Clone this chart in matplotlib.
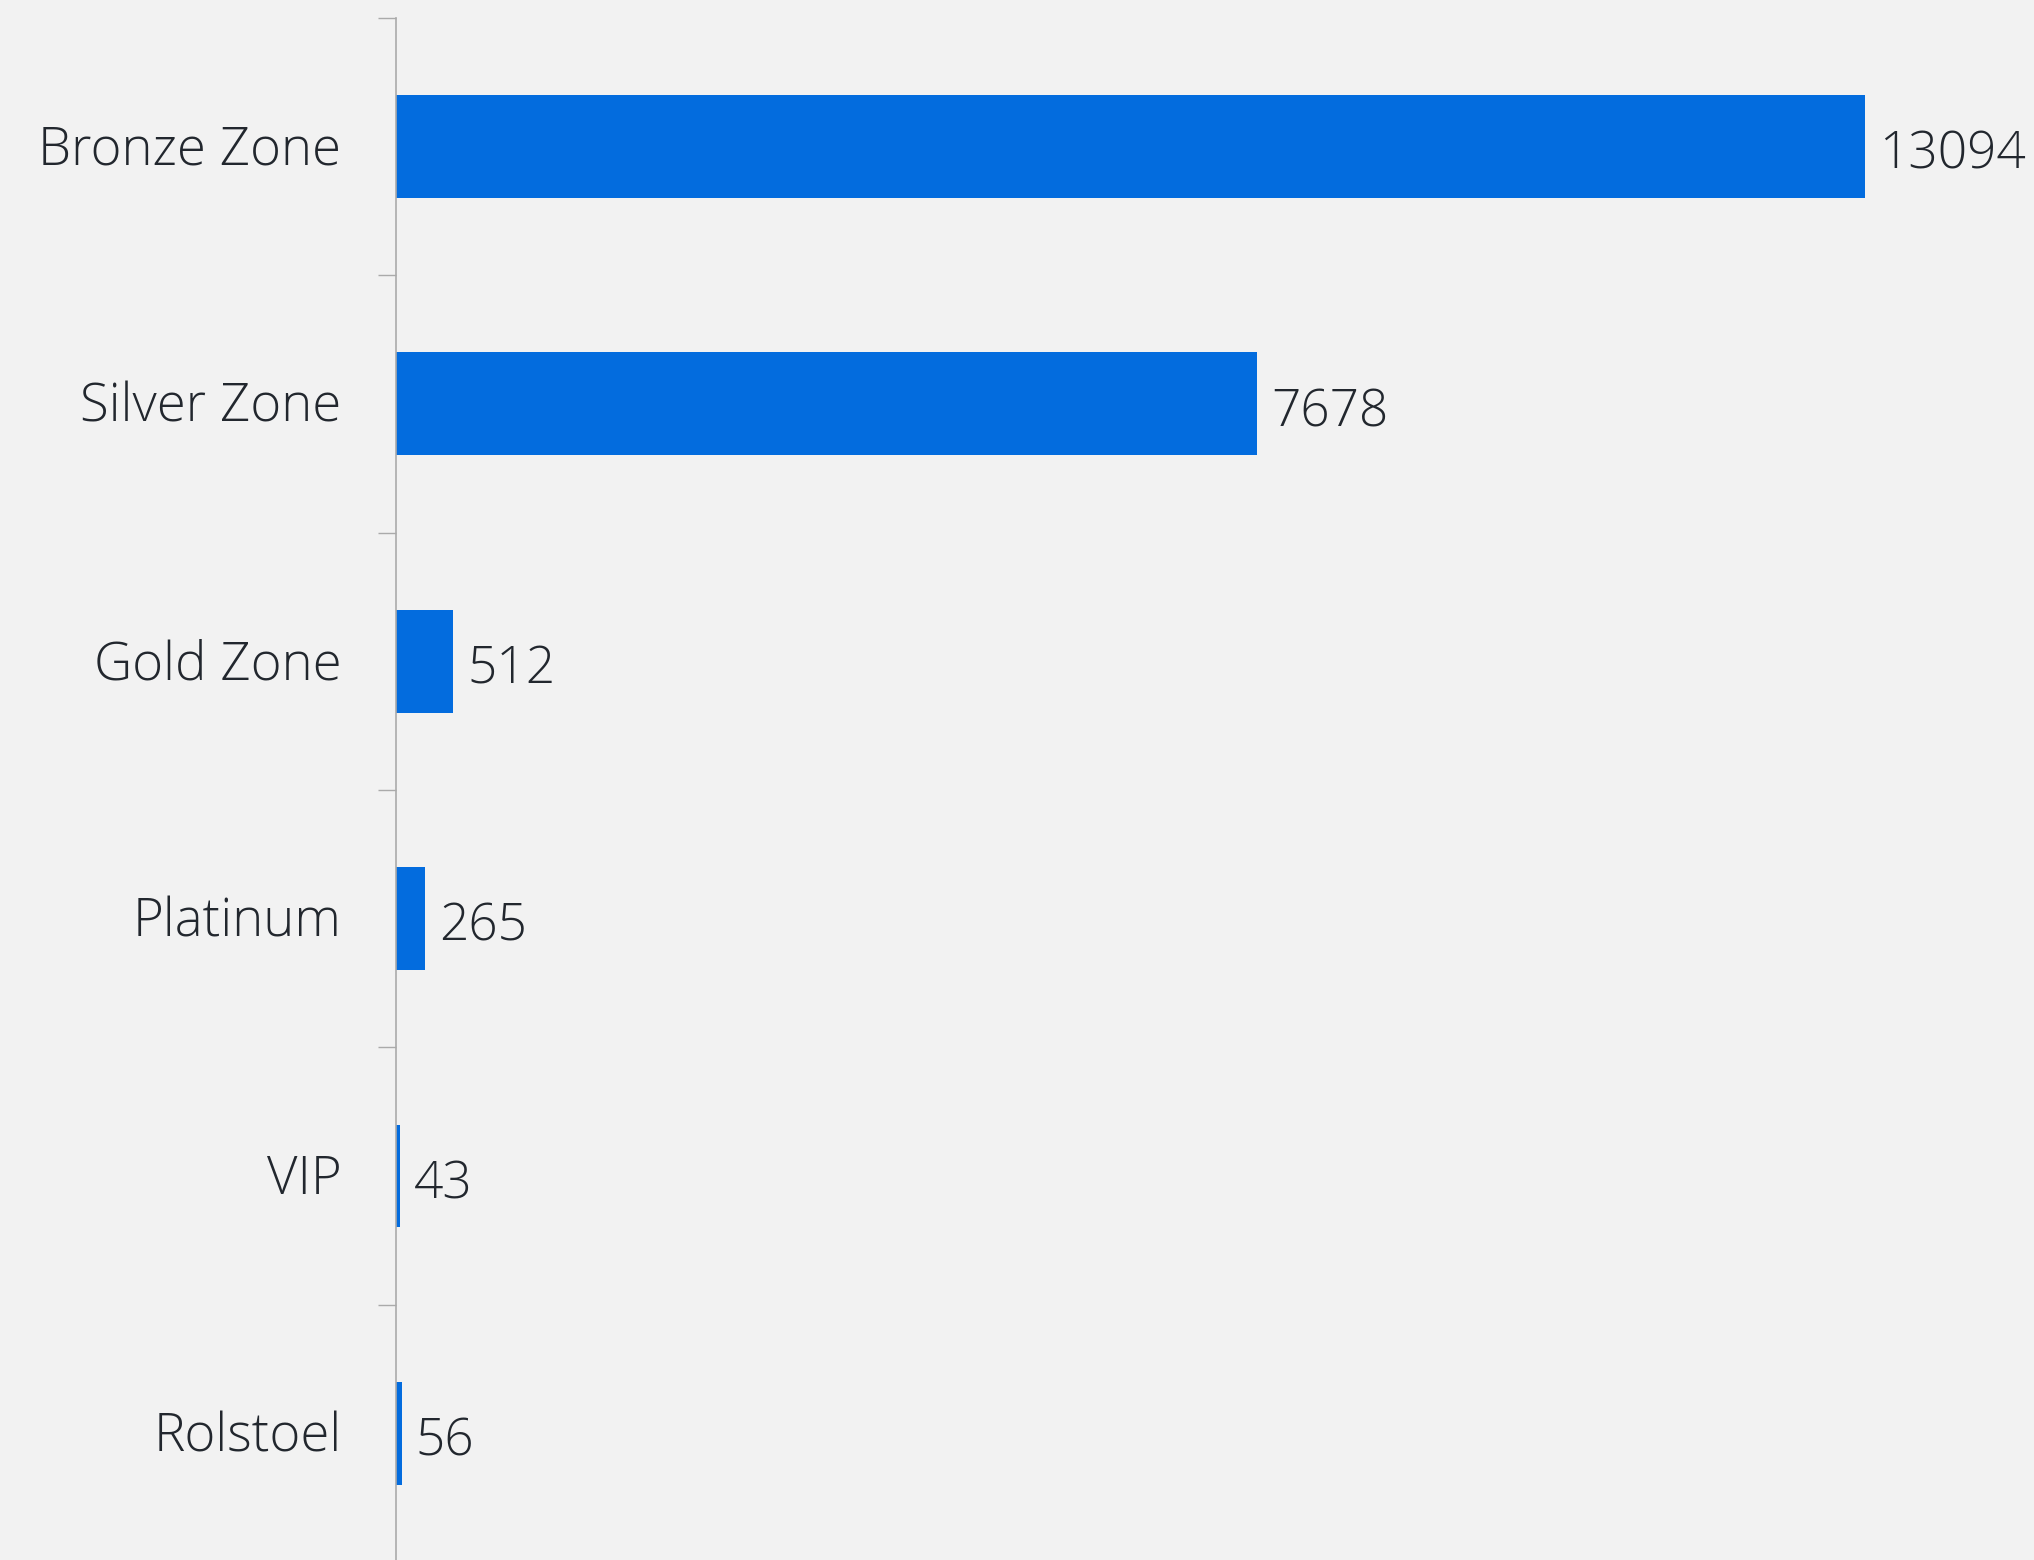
import matplotlib.pyplot as plt

categories = ["Bronze Zone", "Silver Zone", "Gold Zone", "Platinum", "VIP", "Rolstoel"]
values = [13094, 7678, 512, 265, 43, 56]

bg = "#f2f2f2"
bar_color = "#036cde"
text_color = "#22272e"

plt.rcParams['font.family'] = ['Open Sans', 'DejaVu Sans']

fig = plt.figure(figsize=(20.34, 15.6), dpi=100, facecolor=bg)
ax = fig.add_axes([0.1945, -0.0013, 0.8055, 0.9898])
ax.set_facecolor(bg)

pos = list(range(len(categories)))
ax.barh(pos, values, height=0.4, color=bar_color)

ax.set_xlim(0, 14602)
ax.set_ylim(len(categories) - 0.5, -0.5)

# ticks on band boundaries
ax.set_yticks([p - 0.5 for p in pos] + [len(categories) - 0.5])
ax.set_yticklabels([])
ax.tick_params(axis="y", which="major", length=13, width=1, color="#aaaaaa", direction="out")

ax.xaxis.set_visible(False)
for s in ["top", "right", "bottom"]:
    ax.spines[s].set_visible(False)
ax.spines["left"].set_color("#aaaaaa")
ax.spines["left"].set_linewidth(1.2)

# category names at band centres
for p, c in zip(pos, categories):
    ax.annotate(c, xy=(0, p), xycoords=("axes fraction", "data"), xytext=(-39, -3),
                textcoords="offset points", va="center", ha="right", fontsize=38,
                color=text_color, fontweight="light", annotation_clip=False)

for p, v in zip(pos, values):
    ax.annotate(str(v), xy=(v, p), xytext=(10, -6), textcoords="offset points",
                va="center", ha="left", fontsize=37, color=text_color, fontweight="light",
                annotation_clip=False)

fig.savefig("out.png", dpi=100, facecolor=bg)
